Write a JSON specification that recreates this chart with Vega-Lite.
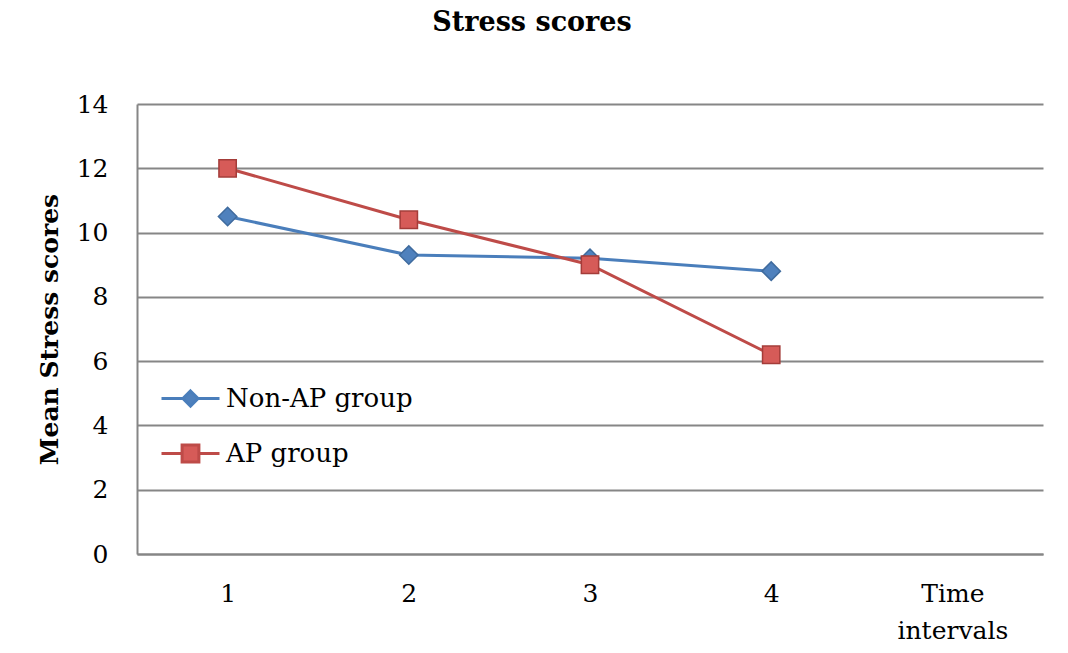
{
  "$schema": "https://vega.github.io/schema/vega-lite/v6.json",
  "autosize": "none",
  "width": 906,
  "height": 450,
  "padding": {"left": 137, "top": 104, "right": 25, "bottom": 99},
  "background": "white",
  "title": {
    "text": "Stress scores",
    "font": "DejaVu Serif",
    "fontSize": 27,
    "fontWeight": "bold",
    "color": "black",
    "anchor": "middle",
    "dx": -58,
    "offset": 55
  },
  "config": {
    "view": {"stroke": null},
    "font": "DejaVu Serif"
  },
  "data": {
    "values": [
      {"time": "1", "series": "Non-AP group", "score": 10.5},
      {"time": "2", "series": "Non-AP group", "score": 9.3},
      {"time": "3", "series": "Non-AP group", "score": 9.2},
      {"time": "4", "series": "Non-AP group", "score": 8.8},
      {"time": "1", "series": "AP group", "score": 12.0},
      {"time": "2", "series": "AP group", "score": 10.4},
      {"time": "3", "series": "AP group", "score": 9.0},
      {"time": "4", "series": "AP group", "score": 6.2}
    ]
  },
  "encoding": {
    "x": {
      "field": "time",
      "type": "nominal",
      "scale": {"domain": ["1", "2", "3", "4", "Time intervals"], "padding": 0.5},
      "axis": {
        "title": null,
        "labelAngle": 0,
        "labelExpr": "datum.label == 'Time intervals' ? ['Time', 'intervals'] : datum.label",
        "labelFont": "DejaVu Serif",
        "labelFontSize": 25,
        "labelColor": "black",
        "labelLineHeight": 37,
        "labelPadding": 27,
        "ticks": false,
        "domainColor": "#868686",
        "domainWidth": 2,
        "grid": false
      }
    },
    "y": {
      "field": "score",
      "type": "quantitative",
      "scale": {"domain": [0, 14]},
      "axis": {
        "title": "Mean Stress scores",
        "titleFont": "DejaVu Serif",
        "titleFontSize": 25,
        "titleFontWeight": "bold",
        "titleColor": "black",
        "titlePadding": 14,
        "values": [0, 2, 4, 6, 8, 10, 12, 14],
        "labelFont": "DejaVu Serif",
        "labelFontSize": 25,
        "labelColor": "black",
        "labelPadding": 29,
        "ticks": false,
        "domainColor": "#868686",
        "domainWidth": 2,
        "grid": true,
        "gridColor": "#868686",
        "gridWidth": 2
      }
    }
  },
  "layer": [
    {
      "mark": {"type": "line", "strokeWidth": 3},
      "encoding": {
        "color": {
          "field": "series",
          "type": "nominal",
          "scale": {"domain": ["Non-AP group", "AP group"], "range": ["#4A7EBB", "#BE4B48"]},
          "legend": {
            "orient": "none",
            "legendX": 23,
            "legendY": 264,
            "title": null,
            "symbolSize": 3364,
            "symbolStrokeWidth": 3,
            "labelFont": "DejaVu Serif",
            "labelFontSize": 26,
            "labelColor": "black",
            "labelOffset": 5,
            "labelLimit": 400,
            "rowPadding": 10,
            "encode": {
              "symbols": {
                "update": {
                  "shape": {"signal": "datum.value == 'AP group' ? 'M-1,0H-0.29M0.29,0H1M-0.29,-0.29H0.29V0.29H-0.29Z' : 'M-1,0H-0.26M0.26,0H1M0,-0.26L0.26,0L0,0.26L-0.26,0Z'"},
                  "size": {"value": 3364},
                  "fill": {"signal": "datum.value == 'AP group' ? '#D65B58' : '#4F81BD'"},
                  "stroke": {"signal": "datum.value == 'AP group' ? '#BE4B48' : '#4A7EBB'"},
                  "strokeWidth": {"value": 3},
                  "opacity": {"value": 1}
                }
              }
            }
          }
        }
      }
    },
    {
      "mark": {"type": "point", "filled": true, "opacity": 1, "strokeWidth": 1.5},
      "encoding": {
        "shape": {"condition": {"test": "datum.series == 'AP group'", "value": "square"}, "value": "diamond"},
        "size": {"condition": {"test": "datum.series == 'AP group'", "value": 300}, "value": 340},
        "fill": {"condition": {"test": "datum.series == 'AP group'", "value": "#D65B58"}, "value": "#4F81BD"},
        "stroke": {"condition": {"test": "datum.series == 'AP group'", "value": "#A43C39"}, "value": "#3F6B9E"}
      }
    }
  ]
}
